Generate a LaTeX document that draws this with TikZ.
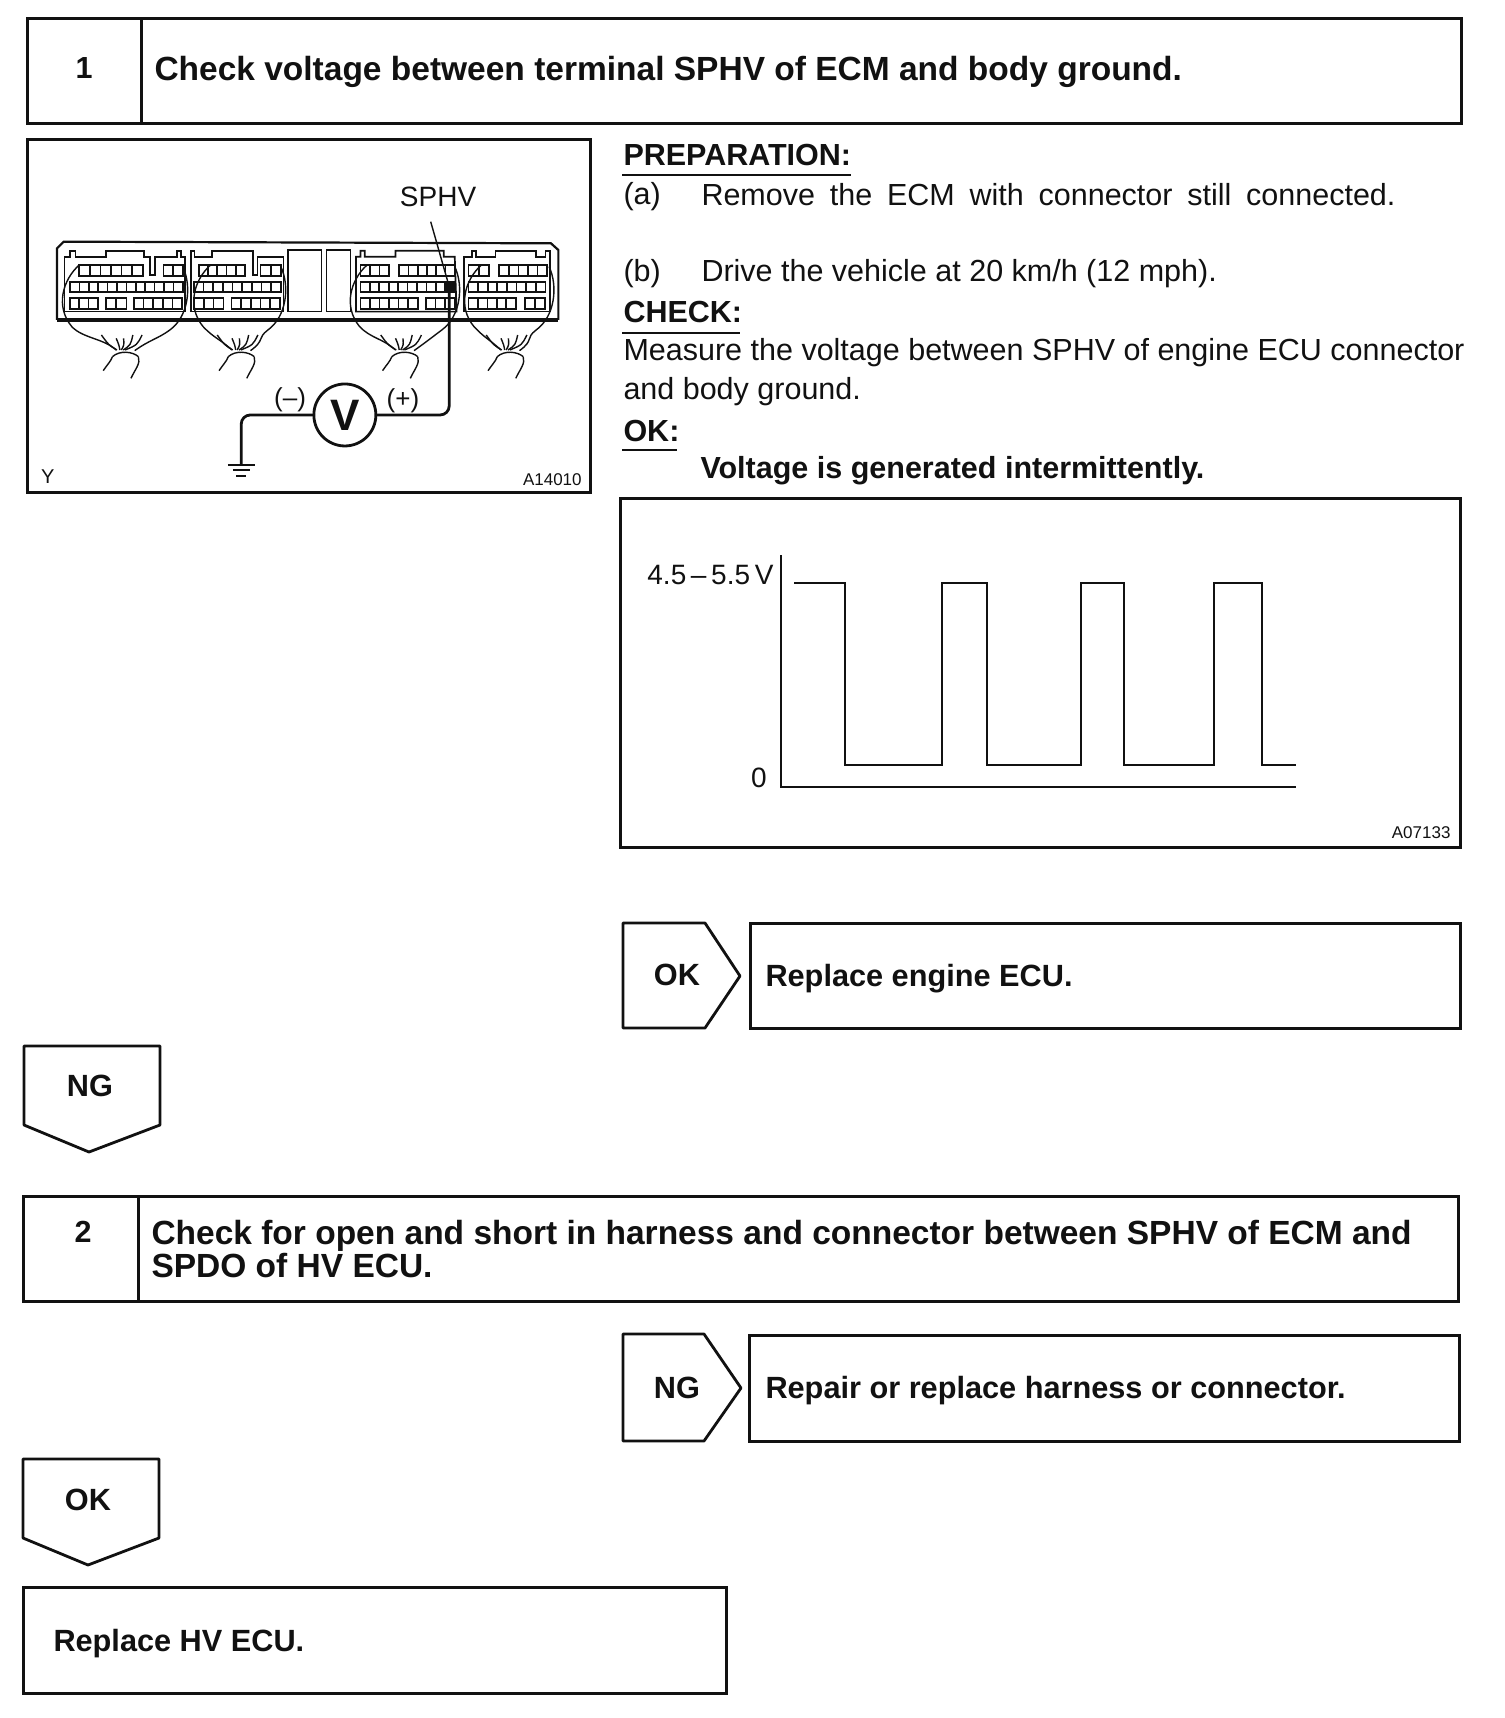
\documentclass[tikz,border=0pt]{standalone}
\usepackage{fontspec}
\setmainfont{Liberation Sans}
\usetikzlibrary{arrows.meta, positioning, calc}
\definecolor{cink}{HTML}{111111}
\newcommand{\fsize}[1]{\fontsize{#1}{#1}\selectfont}
\tikzset{
  every picture/.style={line width=3pt, draw=cink, text=cink, x=1pt, y=-1pt},
  box/.style={draw=cink, rectangle, anchor=north west, outer sep=0pt, inner sep=0pt},
  flag/.style={draw=cink, line width=2.8pt, line join=round},
  head/.style={font=\bfseries\fsize{33.5}, anchor=west, inner sep=0pt},
  result/.style={font=\bfseries\fsize{30.7}, anchor=west, inner sep=0pt},
  label/.style={font=\fsize{30.5}, anchor=west, inner sep=0pt},
  tag/.style={font=\bfseries\fsize{30.5}, anchor=west, inner sep=0pt},
  small/.style={font=\fsize{17}, inner sep=0pt},
  pins/.style={line width=1.7pt},
  thin wire/.style={line width=1.4pt},
}
\begin{document}
\begin{tikzpicture}
  \useasboundingbox (0,0) rectangle (1504,1718);
  % step 1
  \node[box, minimum width=1434pt, minimum height=105pt] (stepone) at (27,19) {};
  \coordinate (onetop) at (141,19);
  \coordinate (onebot) at (141,124);
  \draw (onetop) -- (onebot);
  \node[font=\bfseries\fsize{30.5}, inner sep=0pt] (onenum) at (84,68) {1};
  \node[head] (onetext) at (153,72) {Check voltage between terminal SPHV of ECM and body ground.};
  % connector figure
  \node[box, minimum width=563pt, minimum height=352pt] (figbox) at (27,140) {};
  \begin{scope}[shift={(20,130)}, x=0.37pt, y=-0.3333pt]
    \draw[line width=2.2pt] (100,570) -- (100,355) -- (118,335) -- (1435,340) -- (1455,360) -- (1455,570);
    \draw[line width=3.4pt] (100,570) -- (1455,570);
    \draw[pins] (725,360) rectangle (815,545);
    \draw[pins] (828,360) -- (893,360) -- (893,545) -- (828,545) -- cycle;
    \draw[pins] (120,545) -- (120,380) -- (135,380) -- (135,362) -- (150,362) -- (150,380) -- (232,380) -- (232,362) -- (335,362) -- (335,380) -- (352,380) -- (352,435) -- (365,435) -- (365,380) -- (425,380) -- (425,362) -- (435,362) -- (435,380) -- (445,380) -- (445,545) -- cycle;
    \draw[pins] (462,545) -- (462,362) -- (472,362) -- (472,380) -- (518,380) -- (518,362) -- (630,362) -- (630,435) -- (642,435) -- (642,380) -- (712,380) -- (712,545) -- cycle;
    \draw[pins] (908,545) -- (908,380) -- (920,380) -- (920,362) -- (932,362) -- (932,380) -- (1015,380) -- (1015,362) -- (1145,362) -- (1145,380) -- (1175,380) -- (1180,545) -- cycle;
    \draw[pins] (1200,545) -- (1200,380) -- (1222,380) -- (1222,362) -- (1232,362) -- (1232,380) -- (1285,380) -- (1285,362) -- (1395,362) -- (1395,380) -- (1420,380) -- (1420,362) -- (1432,362) -- (1432,545) -- cycle;
    \foreach \xa/\xb/\ya/\n in {160/332/405/6, 388/440/405/2, 135/440/455/12, 135/210/505/3, 232/288/505/2, 308/438/505/5,
                                483/608/405/5, 650/705/405/2, 470/705/455/9, 470/550/505/3, 572/702/505/5,
                                920/998/405/3, 1025/1175/405/6, 920/1175/455/10, 920/1075/505/6, 1097/1175/505/3,
                                1212/1268/405/2, 1295/1425/405/5, 1212/1420/455/8, 1212/1340/505/5, 1365/1418/505/2} {
      \draw[pins] (\xa,\ya) rectangle (\xb,\ya+32);
      \foreach \i in {1,...,\n}
        \draw[pins] ({\xa+(\xb-\xa)*\i/\n},\ya) -- ({\xa+(\xb-\xa)*\i/\n},\ya+32);
    }
    \foreach \c/\l/\r in {285/110/455, 598/465/720, 1040/888/1190, 1325/1197/1445} {
      \draw[thin wire] (\l+50,405) .. controls (\l+5,450) and (\l-15,530) .. (\l+30,590) .. controls (\l+60,625) and (\c-60,625) .. (\c-25,660);
      \draw[thin wire] (\r-15,410) .. controls (\r+10,470) and (\r,560) .. (\r-50,600) .. controls (\r-80,625) and (\c+65,630) .. (\c+25,662);
      \draw[thin wire] (\c-35,680) .. controls (\c-15,660) and (\c+20,665) .. (\c+35,680);
      \draw[thin wire] (\c-35,680) .. controls (\c-40,695) and (\c-50,705) .. (\c-60,722);
      \draw[thin wire] (\c+35,680) .. controls (\c+42,700) and (\c+25,720) .. (\c+15,745);
      \foreach \dx/\dy in {-65/615, -25/625, -5/625, 20/615, 45/615}
        \draw[thin wire] (\c-10+\dx*0.2,660) .. controls (\c+\dx*0.7,645) .. (\c+\dx,\dy);
    }
    \fill[cink] (1148,455) rectangle (1175,490);
    \node[circle, draw=cink, line width=2.8pt, minimum size=62pt, inner sep=0pt, outer sep=0pt, font=\bfseries\fsize{44}] (vmeter) at (878,855) {V};
    \node[inner sep=0pt, font=\fsize{28}] (sphvlab) at (1130,200) {SPHV};
    \coordinate (sphvpin) at (1160,470);
    \coordinate (sphvtop) at (1110,275);
    \coordinate (plusbend) at (1160,855);
    \coordinate (minusbend) at (598,855);
    \coordinate (gnd) at (598,1005);
    \draw[thin wire] (sphvtop) -- (sphvpin);
    \draw[line width=2.8pt, rounded corners=9pt] (vmeter.east) -- (plusbend) -- (sphvpin);
    \draw[line width=2.8pt, rounded corners=9pt] (vmeter.west) -- (minusbend) -- (gnd);
    \draw[line width=1.9pt] (562,1005) -- (635,1005) (575,1021) -- (622,1021) (585,1038) -- (612,1038);
    \node[inner sep=0pt, font=\fsize{26}] (minuslab) at (730,808) {(--)};
    \node[inner sep=0pt, font=\fsize{26}] (pluslab) at (1035,812) {(+)};
    \node[inner sep=0pt, font=\fsize{20}] (ylab) at (75,1040) {Y};
    \node[small, anchor=east] (figno) at (1522,1048) {A14010};
  \end{scope}
  % instructions
  \node[tag] (prep) at (622,155) {PREPARATION:};
  \coordinate (prepend) at (851,175);
  \draw[line width=1.4pt] (prep.west |- prepend) -- (prepend);
  \node[label] (itema) at (622,197) {(a)};
  \node[label] (texta) at (700,195) {\makebox[694pt][s]{Remove the ECM with connector still connected.}};
  \node[label] (itemb) at (622,274) {(b)};
  \node[label] (textb) at (700,274) {Drive the vehicle at 20 km/h (12 mph).};
  \node[tag] (check) at (622,312) {CHECK:};
  \coordinate (checkend) at (740,333);
  \draw[line width=1.4pt] (check.west |- checkend) -- (checkend);
  \node[label] (measa) at (622,353) {\makebox[841pt][s]{Measure the voltage between SPHV of engine ECU connector}};
  \node[label] (measb) at (622,392) {and body ground.};
  \node[tag] (okhead) at (622,431) {OK:};
  \coordinate (okend) at (677,450);
  \draw[line width=1.4pt] (okhead.west |- okend) -- (okend);
  \node[tag] (okspec) at (699,471) {Voltage is generated intermittently.};
  % waveform
  \node[box, minimum width=840pt, minimum height=349pt] (wavebox) at (620,498) {};
  \coordinate (axtop) at (781,555);
  \coordinate (axorg) at (781,787);
  \coordinate (axend) at (1296,787);
  \draw[line width=1.8pt] (axtop) -- (axorg) -- (axend);
  \draw[line width=2.4pt] (794,583) -- (845,583) -- (845,765) -- (942,765) -- (942,583) -- (987,583) -- (987,765) -- (1081,765) -- (1081,583) -- (1124,583) -- (1124,765) -- (1214,765) -- (1214,583) -- (1262,583) -- (1262,765) -- (1296,765);
  \node[label, anchor=east, font=\fsize{28}] (hilab) at (775,575) {4.5\,--\,5.5\,V};
  \node[label, anchor=center, font=\fsize{28}] (lolab) at (759,778) {0};
  \node[small, anchor=east] (waveno) at (1452,833) {A07133};
  % first result
  \draw[flag] (623,923) -- (705,923) -- (740,976) -- (705,1028) -- (623,1028) -- cycle;
  \node[result, anchor=center] (oktag) at (677,975) {OK};
  \node[box, minimum width=710pt, minimum height=105pt] (okbox) at (750,923) {};
  \node[result] (oktext) at (764,979) {Replace engine ECU.};
  \draw[flag] (24,1046) -- (160,1046) -- (160,1125) -- (89,1152) -- (24,1125) -- cycle;
  \node[result, anchor=center] (ngone) at (90,1086) {NG};
  % step 2
  \node[box, minimum width=1435pt, minimum height=105pt] (steptwo) at (23,1196) {};
  \coordinate (twotop) at (138,1196);
  \coordinate (twobot) at (138,1301);
  \draw (twotop) -- (twobot);
  \node[font=\bfseries\fsize{30.5}, inner sep=0pt] (twonum) at (83,1232) {2};
  \node[head] (twoa) at (150,1236) {Check for open and short in harness and connector between SPHV of ECM and};
  \node[head] (twob) at (150,1266) {SPDO of HV ECU.};
  % second result
  \draw[flag] (623,1334) -- (704,1334) -- (741,1388) -- (704,1441) -- (623,1441) -- cycle;
  \node[result, anchor=center] (ngtag) at (677,1388) {NG};
  \node[box, minimum width=710pt, minimum height=106pt] (ngbox) at (749,1335) {};
  \node[result] (ngtext) at (764,1391) {Repair or replace harness or connector.};
  \draw[flag] (23,1459) -- (159,1459) -- (159,1538) -- (88,1565) -- (23,1538) -- cycle;
  \node[result, anchor=center] (oktwo) at (88,1500) {OK};
  \node[box, minimum width=703pt, minimum height=106pt] (hvbox) at (23,1587) {};
  \node[result] (hvtext) at (52,1644) {Replace HV ECU.};
\end{tikzpicture}
\end{document}
